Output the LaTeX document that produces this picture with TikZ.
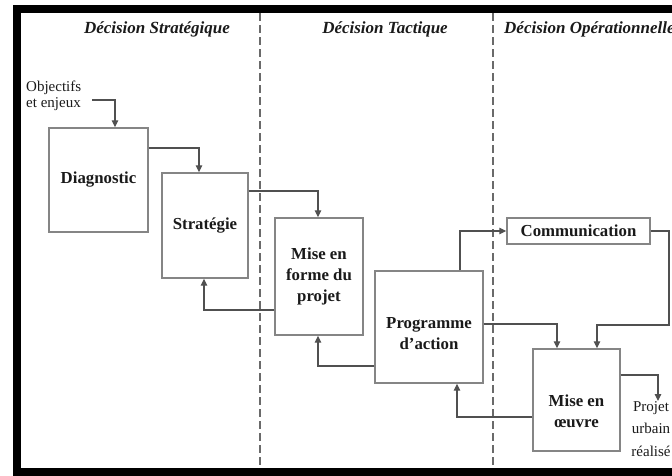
\documentclass[tikz,border=0pt]{standalone}
\usepackage{fontspec}
\setmainfont{Liberation Serif}
\usetikzlibrary{arrows.meta,calc}
\definecolor{boxgray}{HTML}{858585}
\definecolor{linegray}{HTML}{505050}
\definecolor{dashgray}{HTML}{6A6A6A}
\definecolor{txt}{HTML}{1A1A1A}
\tikzset{
  box/.style={draw=boxgray, line width=1.4pt, fill=white, text=txt, align=center, inner sep=0pt,
    font=\bfseries\fontsize{16.8}{21}\selectfont},
  boxtext/.style={text=txt, align=center, inner sep=0pt, font=\bfseries\fontsize{16.8}{21}\selectfont},
  conn/.style={draw=linegray, line width=1.2pt, -{Triangle[length=7pt,width=6.5pt]}},
  title/.style={text=txt, inner sep=0pt, font=\bfseries\itshape\fontsize{17}{20}\selectfont},
  plain/.style={text=txt, inner sep=0pt, font=\fontsize{15}{16}\selectfont},
  sepline/.style={draw=dashgray, line width=1.2pt, dash pattern=on 8pt off 4pt}
}
\begin{document}
\begin{tikzpicture}[x=1pt,y=-1pt]
\useasboundingbox (0,0) rectangle (672,475);
\clip (0,0) rectangle (672,475);
% frame
\draw[line width=8pt, black] (17,9) rectangle (700,472);
% separators
\draw[sepline] (260,13) -- (260,468);
\draw[sepline] (493,13) -- (493,468);
% titles
\node[title] (t1) at (157,29) {Décision Stratégique};
\node[title] (t2) at (385,29) {Décision Tactique};
\node[title, anchor=west] (t3) at (504,29) {Décision Opérationnelle};
% boxes
\node[box, minimum width=99pt, minimum height=104pt] (diag) at (98.5,180) {Diagnostic};
\node[box, minimum width=86pt, minimum height=105pt] (strat) at (205,225.5) {Stratégie};
\node[box, minimum width=88pt, minimum height=117pt] (mef) at (319,276.5) {Mise en\\forme du\\projet};
\node[box, minimum width=108pt, minimum height=112pt] (prog) at (429,327) {};
\node[boxtext] (progt) at (429,334) {Programme\\d’action};
\node[box, minimum width=143pt, minimum height=26pt] (comm) at (578.5,231) {Communication};
\node[box, minimum width=87pt, minimum height=102pt] (moe) at (576.5,400) {};
\node[boxtext] (moet) at (576.5,411) {Mise en\\œuvre};
% free texts
\node[plain, align=left, anchor=west] (obj) at (26,95.5) {Objectifs\\et enjeux};
\node[plain, align=center, anchor=north, font=\fontsize{15}{22.5}\selectfont] (proj) at (651,401) {Projet\\urbain\\réalisé};
% connectors
\draw[conn] (92,100) -| (diag.north -| 115,0);
\draw[conn] (diag.east |- 0,148) -| (strat.north -| 199,0);
\draw[conn] (strat.east |- 0,191) -| (mef.north -| 318,0);
\draw[conn] (mef.west |- 0,310) -| (strat.south -| 204,0);
\draw[conn] (prog.west |- 0,366) -| (mef.south -| 318,0);
\draw[conn] (prog.north -| 460,0) |- (comm.west);
\draw[conn] (comm.east) -- (comm.east -| 669,0) -- (669,325) -| (moe.north -| 597,0);
\draw[conn] (prog.east |- 0,324) -| (moe.north -| 557,0);
\draw[conn] (moe.west |- 0,417) -| (prog.south -| 457,0);
\draw[conn] (moe.east |- 0,375) -| (proj.north -| 658,0);
\end{tikzpicture}
\end{document}
